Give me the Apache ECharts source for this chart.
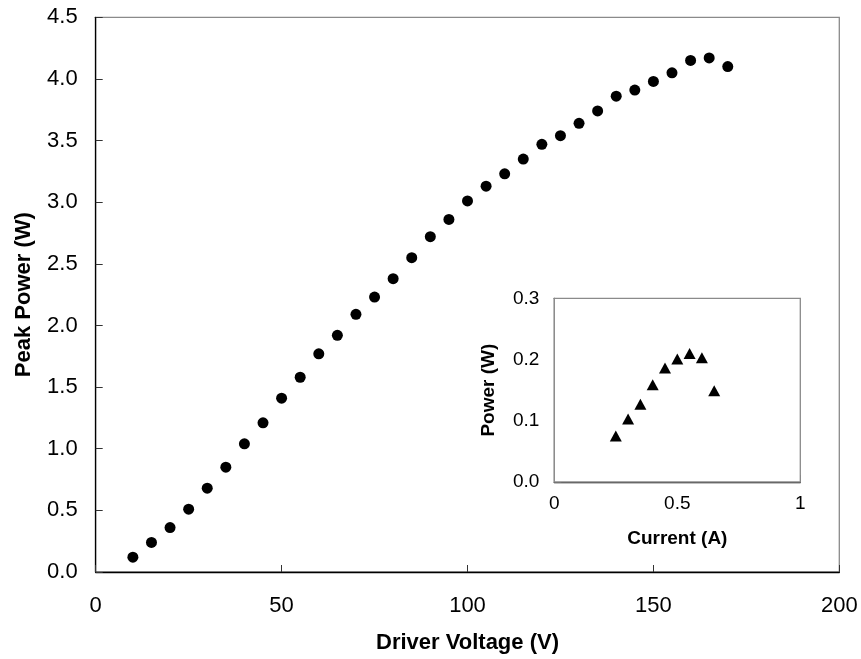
<!DOCTYPE html>
<html>
<head>
<meta charset="utf-8">
<script src="https://cdn.jsdelivr.net/npm/echarts@6/dist/echarts.min.js"></script>
<style>
  html, body { margin: 0; padding: 0; background: #fff; }
  #chart { width: 861px; height: 659px; }
</style>
</head>
<body>
<div id="chart"></div>
<script>
// Peak power vs driver voltage (main plot)
var driverVoltage = [10, 15, 20, 25, 30, 35, 40, 45, 50, 55, 60, 65, 70, 75, 80, 85,
  90, 95, 100, 105, 110, 115, 120, 125, 130, 135, 140, 145, 150, 155, 160, 165, 170];
var peakPower = [0.12, 0.24, 0.36, 0.51, 0.68, 0.85, 1.04, 1.21, 1.41, 1.58, 1.77, 1.92,
  2.09, 2.23, 2.38, 2.55, 2.72, 2.86, 3.01, 3.13, 3.23, 3.35, 3.47, 3.54, 3.64, 3.74,
  3.86, 3.91, 3.98, 4.05, 4.15, 4.17, 4.10];

// Power vs current (inset)
var current = [0.25, 0.30, 0.35, 0.40, 0.45, 0.50, 0.55, 0.60, 0.65];
var power = [0.075, 0.103, 0.127, 0.159, 0.186, 0.201, 0.210, 0.203, 0.149];

var FONT = 'Liberation Sans, Arial, sans-serif';

function pairs(xs, ys) {
  return xs.map(function (x, i) { return [x, ys[i]]; });
}

function axisBase(fontSize, margin) {
  return {
    axisLine: { show: true, onZero: false, lineStyle: { color: '#000', width: 1.3 } },
    axisTick: { show: true, inside: true, length: 7, lineStyle: { color: '#333', width: 1 } },
    splitLine: { show: false },
    axisLabel: { color: '#000', fontFamily: FONT, fontSize: fontSize, margin: margin }
  };
}

var chart = echarts.init(document.getElementById('chart'), null, { renderer: 'canvas' });

var xMain = Object.assign(axisBase(22, 23), {
  type: 'value', gridIndex: 0, min: 0, max: 200, interval: 50,
  name: 'Driver Voltage (V)', nameLocation: 'middle', nameGap: 60,
  nameTextStyle: { color: '#000', fontFamily: FONT, fontSize: 22, fontWeight: 'bold' }
});
var yMain = Object.assign(axisBase(22, 18), {
  type: 'value', gridIndex: 0, min: 0, max: 4.5, interval: 0.5,
  name: 'Peak Power (W)', nameLocation: 'middle', nameGap: 61,
  nameTextStyle: { color: '#000', fontFamily: FONT, fontSize: 22, fontWeight: 'bold' }
});
yMain.axisLabel.formatter = function (v) { return v.toFixed(1); };

var xInset = Object.assign(axisBase(19, 12), {
  type: 'value', gridIndex: 1, min: 0, max: 1, interval: 0.5,
  name: 'Current (A)', nameLocation: 'middle', nameGap: 47,
  nameTextStyle: { color: '#000', fontFamily: FONT, fontSize: 19, fontWeight: 'bold' }
});
var yInset = Object.assign(axisBase(19, 15), {
  type: 'value', gridIndex: 1, min: 0, max: 0.3, interval: 0.1,
  name: 'Power (W)', nameLocation: 'middle', nameGap: 56,
  nameTextStyle: { color: '#000', fontFamily: FONT, fontSize: 19, fontWeight: 'bold' }
});
yInset.axisLabel.formatter = function (v) { return v.toFixed(1); };

chart.setOption({
  animation: false,
  backgroundColor: '#fff',
  grid: [
    { left: 95.7, top: 17.3, right: 21.7, bottom: 87, show: true,
      borderColor: '#8a8a8a', borderWidth: 1.3, backgroundColor: '#fff' },
    { left: 554.3, top: 298.3, right: 60.7, bottom: 177, show: true,
      borderColor: '#8a8a8a', borderWidth: 1.3, backgroundColor: '#fff', z: 3 }
  ],
  xAxis: [xMain, xInset],
  yAxis: [yMain, yInset],
  series: [
    {
      type: 'scatter', xAxisIndex: 0, yAxisIndex: 0,
      data: pairs(driverVoltage, peakPower),
      symbol: 'circle', symbolSize: 11,
      itemStyle: { color: '#000', opacity: 1 }
    },
    {
      type: 'scatter', xAxisIndex: 1, yAxisIndex: 1, z: 5,
      data: pairs(current, power),
      symbol: 'triangle', symbolSize: [12, 11],
      itemStyle: { color: '#000', opacity: 1 }
    }
  ]
});
</script>
</body>
</html>
